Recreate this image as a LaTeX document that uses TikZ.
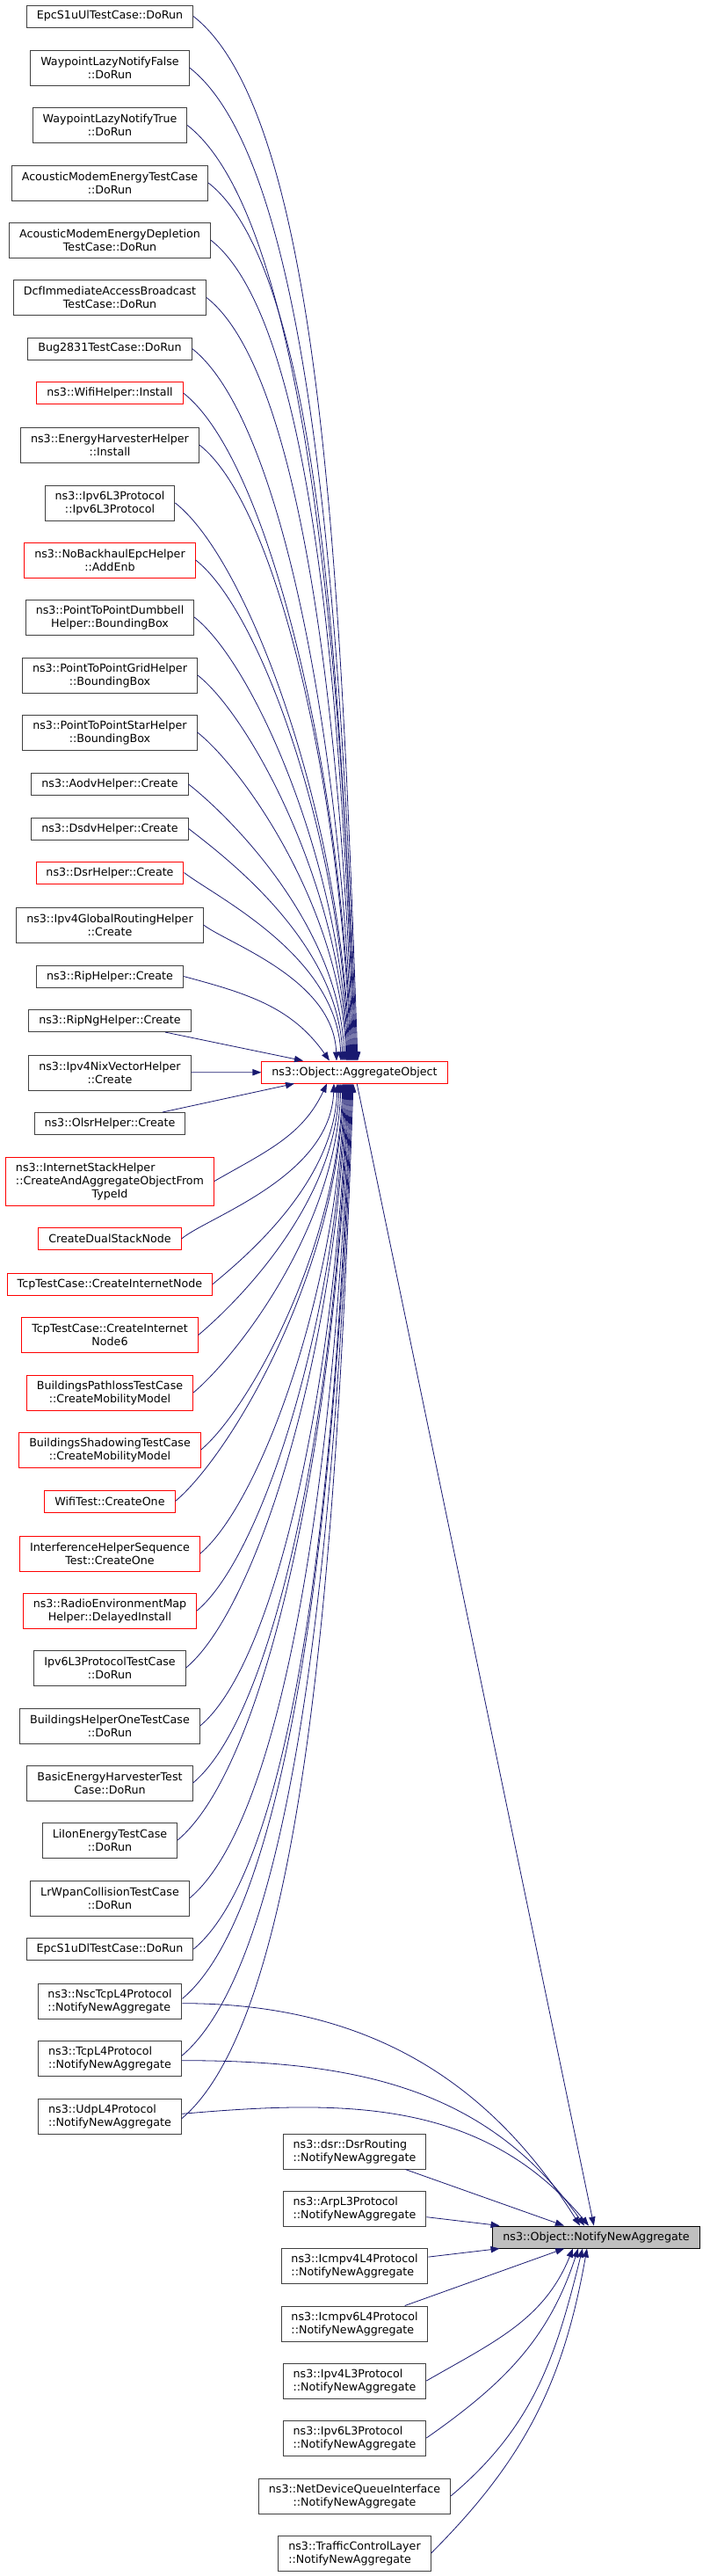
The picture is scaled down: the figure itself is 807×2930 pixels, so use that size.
\documentclass[tikz,border=0pt]{standalone}
\usepackage{fontspec}
\setmainfont{DejaVu Sans}
\usepackage{xcolor}
\usepackage{tikz}
\usetikzlibrary{arrows.meta}
\definecolor{fnLine}{HTML}{404040}
\definecolor{fnRed}{HTML}{FF0000}
\definecolor{fnRoot}{HTML}{BFBFBF}
\definecolor{fnEdge}{HTML}{191970}
\tikzset{
  fn/.style={
    rectangle,
    draw=fnLine,
    fill=white,
    align=center,
    font=\fontsize{9.5}{11.25}\selectfont,
    inner xsep=8.6pt,
    inner ysep=2pt,
    minimum height=18.75pt,
    line width=0.75pt
  },
  fnred/.style={fn, draw=fnRed},
  fnroot/.style={fn, draw=black, fill=fnRoot},
  fnleft/.style={fn, align=left},
  h2/.style={minimum height=30pt},
  h3/.style={minimum height=41.25pt},
  callarrow/.style={-{Triangle[length=7.5pt,width=5.5pt]}, draw=fnEdge, line width=0.6pt},
  fromabove/.style={out=-38, in=92, out looseness=0.4, in looseness=1.1},
  frombelow/.style={out=40, in=-92, out looseness=0.4, in looseness=1.1}
}

\begin{document}
\begin{tikzpicture}[x=0.75pt, y=-0.75pt]
  \useasboundingbox (0,0) rectangle (807,2930);

  % callers of AggregateObject
  \node[fn] (epcul) at (125,18.5) {EpcS1uUlTestCase::DoRun};
  \node[fn, h2] (wpfalse) at (125,77) {WaypointLazyNotifyFalse\\::DoRun};
  \node[fn, h2] (wptrue) at (125,142.5) {WaypointLazyNotifyTrue\\::DoRun};
  \node[fn, h2] (amenergy) at (125,208) {AcousticModemEnergyTestCase\\::DoRun};
  \node[fn, h2] (amdepl) at (125,273) {AcousticModemEnergyDepletion\\TestCase::DoRun};
  \node[fn, h2] (dcf) at (125,338.5) {DcfImmediateAccessBroadcast\\TestCase::DoRun};
  \node[fn] (bug) at (125,396.5) {Bug2831TestCase::DoRun};
  \node[fnred] (wifihelper) at (125,447) {ns3::WifiHelper::Install};
  \node[fn, h2] (ehh) at (125,506) {ns3::EnergyHarvesterHelper\\::Install};
  \node[fn, h2] (ipv6l3) at (125,572) {ns3::Ipv6L3Protocol\\::Ipv6L3Protocol};
  \node[fnred, h2] (nobackhaul) at (125,637) {ns3::NoBackhaulEpcHelper\\::AddEnb};
  \node[fn, h2] (dumbbell) at (125,702) {ns3::PointToPointDumbbell\\Helper::BoundingBox};
  \node[fn, h2] (grid) at (125,768) {ns3::PointToPointGridHelper\\::BoundingBox};
  \node[fn, h2] (star) at (125,833) {ns3::PointToPointStarHelper\\::BoundingBox};
  \node[fn] (aodv) at (125,892) {ns3::AodvHelper::Create};
  \node[fn] (dsdv) at (125,942.5) {ns3::DsdvHelper::Create};
  \node[fnred] (dsrh) at (125,992.5) {ns3::DsrHelper::Create};
  \node[fn, h2] (globalrt) at (125,1052) {ns3::Ipv4GlobalRoutingHelper\\::Create};
  \node[fn] (rip) at (125,1110.5) {ns3::RipHelper::Create};
  \node[fn] (ripng) at (125,1161) {ns3::RipNgHelper::Create};
  \node[fn, h2] (nix) at (125,1220) {ns3::Ipv4NixVectorHelper\\::Create};
  \node[fn] (olsr) at (125,1278) {ns3::OlsrHelper::Create};
  \node[fnred, h3, align=left] (ish) at (125,1343.5) {ns3::InternetStackHelper\\::CreateAndAggregateObjectFrom\\\hspace*{6.83em}TypeId};
  \node[fnred] (dual) at (125,1409) {CreateDualStackNode};
  \node[fnred] (tcpnode) at (125,1460.5) {TcpTestCase::CreateInternetNode};
  \node[fnred, h2] (tcpnode6) at (125,1518.5) {TcpTestCase::CreateInternet\\Node6};
  \node[fnred, h2] (bpath) at (125,1584) {BuildingsPathlossTestCase\\::CreateMobilityModel};
  \node[fnred, h2] (bshadow) at (125,1649) {BuildingsShadowingTestCase\\::CreateMobilityModel};
  \node[fnred] (wifitest) at (125,1707.5) {WifiTest::CreateOne};
  \node[fnred, h2] (ihseq) at (125,1767) {InterferenceHelperSequence\\Test::CreateOne};
  \node[fnred, h2] (rem) at (125,1832) {ns3::RadioEnvironmentMap\\Helper::DelayedInstall};
  \node[fn, h2] (ipv6test) at (125,1897) {Ipv6L3ProtocolTestCase\\::DoRun};
  \node[fn, h2] (bhelper) at (125,1963) {BuildingsHelperOneTestCase\\::DoRun};
  \node[fn, h2] (basicenergy) at (125,2028) {BasicEnergyHarvesterTest\\Case::DoRun};
  \node[fn, h2] (liion) at (125,2093) {LiIonEnergyTestCase\\::DoRun};
  \node[fn, h2] (lrwpan) at (125,2159) {LrWpanCollisionTestCase\\::DoRun};
  \node[fn] (epcdl) at (125,2217) {EpcS1uDlTestCase::DoRun};
  \node[fnleft, h2] (nsc) at (125,2276) {ns3::NscTcpL4Protocol\\::NotifyNewAggregate};
  \node[fnleft, h2] (tcpl4) at (125,2341) {ns3::TcpL4Protocol\\::NotifyNewAggregate};
  \node[fnleft, h2] (udp) at (125,2407) {ns3::UdpL4Protocol\\::NotifyNewAggregate};

  % middle column
  \node[fnred] (agg) at (403.5,1219.5) {ns3::Object::AggregateObject};
  \node[fnleft, h2] (dsrr) at (403.5,2447) {ns3::dsr::DsrRouting\\::NotifyNewAggregate};
  \node[fnleft, h2] (arp) at (403.5,2512) {ns3::ArpL3Protocol\\::NotifyNewAggregate};
  \node[fnleft, h2] (icmp4) at (403.5,2577) {ns3::Icmpv4L4Protocol\\::NotifyNewAggregate};
  \node[fnleft, h2] (icmp6) at (403.5,2643) {ns3::Icmpv6L4Protocol\\::NotifyNewAggregate};
  \node[fnleft, h2] (ipv4) at (403.5,2708) {ns3::Ipv4L3Protocol\\::NotifyNewAggregate};
  \node[fnleft, h2] (ipv6) at (403.5,2773) {ns3::Ipv6L3Protocol\\::NotifyNewAggregate};
  \node[fn, h2] (netdev) at (403.5,2839) {ns3::NetDeviceQueueInterface\\::NotifyNewAggregate};
  \node[fnleft, h2] (tcl) at (403.5,2904) {ns3::TrafficControlLayer\\::NotifyNewAggregate};

  % the function itself
  \node[fnroot] (target) at (678.5,2544.5) {ns3::Object::NotifyNewAggregate};

  % edges into AggregateObject from above
  \draw[callarrow] (epcul.east) to[fromabove] (407,0 |- agg.north);
  \draw[callarrow] (wpfalse.east) to[fromabove] (406,0 |- agg.north);
  \draw[callarrow] (wptrue.east) to[fromabove] (405,0 |- agg.north);
  \draw[callarrow] (amenergy.east) to[fromabove] (404,0 |- agg.north);
  \draw[callarrow] (amdepl.east) to[fromabove] (403,0 |- agg.north);
  \draw[callarrow] (dcf.east) to[fromabove] (402,0 |- agg.north);
  \draw[callarrow] (bug.east) to[fromabove] (401,0 |- agg.north);
  \draw[callarrow] (wifihelper.east) to[fromabove] (400,0 |- agg.north);
  \draw[callarrow] (ehh.east) to[fromabove] (399,0 |- agg.north);
  \draw[callarrow] (ipv6l3.east) to[fromabove] (398,0 |- agg.north);
  \draw[callarrow] (nobackhaul.east) to[fromabove] (397,0 |- agg.north);
  \draw[callarrow] (dumbbell.east) to[fromabove] (396,0 |- agg.north);
  \draw[callarrow] (grid.east) to[fromabove] (395,0 |- agg.north);
  \draw[callarrow] (star.east) to[fromabove] (394,0 |- agg.north);
  \draw[callarrow] (aodv.east) to[fromabove] (392,0 |- agg.north);
  \draw[callarrow] (dsdv.east) to[fromabove] (390,0 |- agg.north);
  \draw[callarrow] (dsrh.east) to[fromabove] (388,0 |- agg.north);
  \draw[callarrow] (globalrt.east) to[fromabove] (383,0 |- agg.north);
  \draw[callarrow] (rip.east) to[out=-15, in=125] (375,0 |- agg.north);
  \draw[callarrow] (ripng) -- (345,0 |- agg.north);
  \draw[callarrow] (nix) -- (agg);

  % edges into AggregateObject from below
  \draw[callarrow] (olsr) -- (335,0 |- agg.south);
  \draw[callarrow] (ish.east) to[out=30, in=-115] (372,0 |- agg.south);
  \draw[callarrow] (dual.east) to[frombelow] (380,0 |- agg.south);
  \draw[callarrow] (tcpnode.east) to[frombelow] (384,0 |- agg.south);
  \draw[callarrow] (tcpnode6.east) to[frombelow] (386,0 |- agg.south);
  \draw[callarrow] (bpath.east) to[frombelow] (388,0 |- agg.south);
  \draw[callarrow] (bshadow.east) to[frombelow] (390,0 |- agg.south);
  \draw[callarrow] (wifitest.east) to[frombelow] (391,0 |- agg.south);
  \draw[callarrow] (ihseq.east) to[frombelow] (392,0 |- agg.south);
  \draw[callarrow] (rem.east) to[frombelow] (393,0 |- agg.south);
  \draw[callarrow] (ipv6test.east) to[frombelow] (394,0 |- agg.south);
  \draw[callarrow] (bhelper.east) to[frombelow] (395,0 |- agg.south);
  \draw[callarrow] (basicenergy.east) to[frombelow] (396,0 |- agg.south);
  \draw[callarrow] (liion.east) to[frombelow] (397,0 |- agg.south);
  \draw[callarrow] (lrwpan.east) to[frombelow] (398,0 |- agg.south);
  \draw[callarrow] (epcdl.east) to[frombelow] (399,0 |- agg.south);
  \draw[callarrow] ([yshift=2pt]nsc.east) to[frombelow] (400,0 |- agg.south);
  \draw[callarrow] ([yshift=2pt]tcpl4.east) to[frombelow] (401,0 |- agg.south);
  \draw[callarrow] ([yshift=-2pt]udp.east) to[frombelow] (402,0 |- agg.south);

  % edges into NotifyNewAggregate
  \draw[callarrow] (agg) -- (target);
  \draw[callarrow] ([yshift=-2pt]nsc.east) to[out=0, in=122] (660,0 |- target.north);
  \draw[callarrow] ([yshift=-2pt]tcpl4.east) to[out=0, in=125] (665,0 |- target.north);
  \draw[callarrow] ([yshift=2pt]udp.east) to[out=5, in=130] (670,0 |- target.north);
  \draw[callarrow] (dsrr) -- (target);
  \draw[callarrow] (arp) -- (target);
  \draw[callarrow] (icmp4) -- (target);
  \draw[callarrow] (icmp6) -- (target);
  \draw[callarrow] (ipv4.east) to[out=30, in=-112] (652,0 |- target.south);
  \draw[callarrow] (ipv6.east) to[out=35, in=-108] (658,0 |- target.south);
  \draw[callarrow] (netdev.east) to[out=40, in=-104] (663,0 |- target.south);
  \draw[callarrow] (tcl.east) to[out=45, in=-100] (668,0 |- target.south);
\end{tikzpicture}
\end{document}
